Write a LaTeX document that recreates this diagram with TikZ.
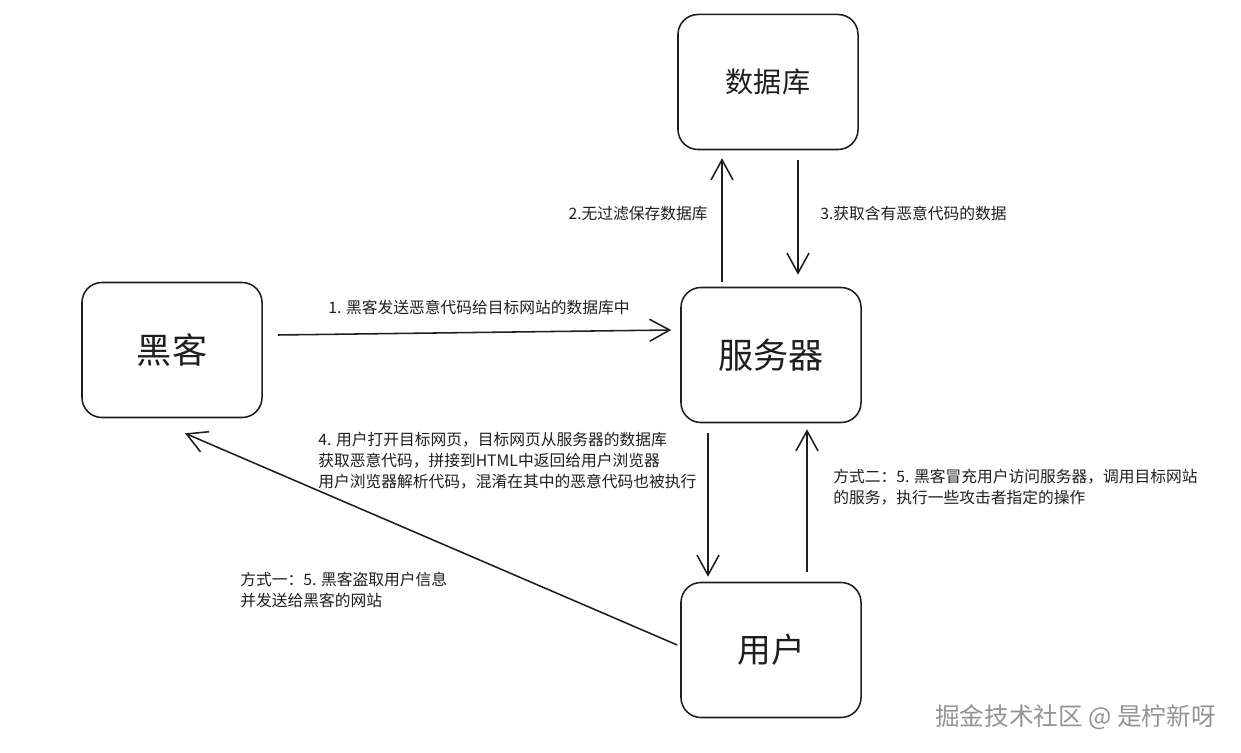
\documentclass[tikz,border=0pt]{standalone}
\usepackage{fontspec}
\setmainfont{Noto Sans CJK SC}
\usepackage{xcolor}
\usetikzlibrary{arrows.meta, positioning, calc}
\definecolor{inkgray}{RGB}{30, 30, 30}

\begin{document}
\begin{tikzpicture}[
    x=0.025cm, y=-0.025cm,
    box/.style={draw=inkgray, rounded corners=0.5cm, minimum width=4.5cm, minimum height=3.375cm, line width=1.1pt, text=inkgray},
    flow/.style={draw=inkgray, line width=1.1pt, -{Straight Barb[length=0.5cm, width=0.55cm, line width=1.1pt]}},
    note/.style={font=\fontsize{11.2}{15}\selectfont, inner sep=0pt, align=left, text=inkgray}
]
\useasboundingbox (0,0) rectangle (1241,753);

\node[box, font=\fontsize{20}{24}\selectfont] (db) at (768,82) {数据库};
\node[box, font=\fontsize{25}{30}\selectfont] (hacker) at (172,350) {黑客};
\node[box, font=\fontsize{25}{30}\selectfont] (server) at (771,355) {服务器};
\node[box, font=\fontsize{24}{29}\selectfont] (user) at (771,650) {用户};

\draw[flow] ($(hacker.east)+(15,-15)$) -- ($(server.west)+(-9,-25)$);
\draw[flow] ($(server.north)+(-49,-5)$) -- ($(db.south)+(-46,8)$);
\draw[flow] ($(db.south)+(30,10)$) -- ($(server.north)+(27,-12)$);
\draw[flow] ($(server.south)+(-63,10)$) -- ($(user.north)+(-63,-5)$);
\draw[flow] ($(user.north)+(36,-10)$) -- ($(server.south)+(36,6)$);
\draw[flow] ($(user.west)+(-3,-5)$) -- ($(hacker.south)+(13,15)$);

\node[note, anchor=west] (n1) at (328,307) {1. 黑客发送恶意代码给目标网站的数据库中};
\node[note, anchor=east] (n2) at (708,214) {2.无过滤保存数据库};
\node[note, anchor=west] (n3) at (820,213) {3.获取含有恶意代码的数据};
\node[note, anchor=west] (n4) at (318,461) {4. 用户打开目标网页，目标网页从服务器的数据库\\获取恶意代码，拼接到HTML中返回给用户浏览器\\用户浏览器解析代码，混淆在其中的恶意代码也被执行};
\node[note, anchor=west] (n5a) at (833,487) {方式二：5. 黑客冒充用户访问服务器，调用目标网站\\的服务，执行一些攻击者指定的操作};
\node[note, anchor=west] (n5b) at (240,590) {方式一：5. 黑客盗取用户信息\\并发送给黑客的网站};

\node[anchor=west, inner sep=0pt, text=gray!85, font=\fontsize{17.5}{21}\selectfont] (mark) at (935,717) {掘金技术社区 @ 是柠新呀};
\end{tikzpicture}
\end{document}
